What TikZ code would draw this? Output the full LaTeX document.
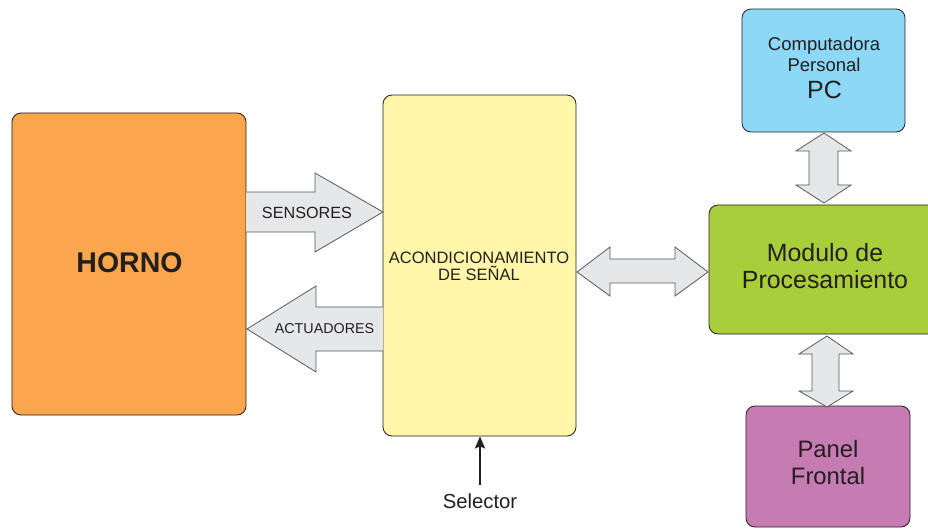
\documentclass[tikz,border=0pt]{standalone}
\usepackage{fontspec}
\setmainfont{Liberation Sans}
\usetikzlibrary{arrows.meta}
\definecolor{hornoC}{HTML}{F9A64C}
\definecolor{acondC}{HTML}{FFF6A9}
\definecolor{pcC}{HTML}{8DD8F7}
\definecolor{modC}{HTML}{A8CE3A}
\definecolor{panelC}{HTML}{C77BB3}
\definecolor{arrowC}{HTML}{E6E7E8}
\definecolor{edgeC}{HTML}{58595B}
\definecolor{inkC}{HTML}{231F20}
\newcommand{\fsz}[1]{\fontsize{#1bp}{#1bp}\selectfont}
\tikzset{
  box/.style={draw=inkC, line width=0.8bp, rounded corners=9bp, inner sep=0pt,
    anchor=center},
  blockarrow/.style={fill=arrowC, draw=edgeC, line width=0.8bp, line join=miter},
  lbl/.style={text=inkC, inner sep=0pt, anchor=base},
}
\begin{document}
\begin{tikzpicture}[x=1bp,y=-1bp]
\useasboundingbox (0,0) rectangle (928,529);
\clip (0,0) rectangle (928,529);

% blocks
\node[box, fill=hornoC, minimum width=234bp, minimum height=302bp]
  (horno) at (129,264) {};
\node[box, fill=acondC, minimum width=193bp, minimum height=341bp]
  (acond) at (479.5,265.5) {};
\node[box, fill=pcC, minimum width=163bp, minimum height=123bp]
  (pc) at (823.5,70.5) {};
\node[box, fill=modC, minimum width=232bp, minimum height=129bp]
  (modulo) at (825,269.5) {};
\node[box, fill=panelC, minimum width=164bp, minimum height=121bp]
  (panel) at (828,466.5) {};

% block texts, one node per line, placed on their baselines
\node[lbl, font=\fsz{28.5}\bfseries] (hornoT) at (129.5,273) {HORNO};
\node[lbl, font=\fsz{16.5}] (acondT1) at (479,264) {ACONDICIONAMIENTO};
\node[lbl, font=\fsz{16.5}] (acondT2) at (479,280.5) {DE SEÑAL};
\node[lbl, font=\fsz{18.5}] (pcT1) at (824,50.5) {Computadora};
\node[lbl, font=\fsz{18.5}] (pcT2) at (824,72) {Personal};
\node[lbl, font=\fsz{25}] (pcT3) at (824.5,98.5) {PC};
\node[lbl, font=\fsz{24.9}] (modT1) at (825,262) {Modulo de};
\node[lbl, font=\fsz{24.9}] (modT2) at (825,289) {Procesamiento};
\node[lbl, font=\fsz{23.8}] (panT1) at (828,457) {Panel};
\node[lbl, font=\fsz{23.8}] (panT2) at (828,484.5) {Frontal};

% sensores: horno -> acondicionamiento
\draw[blockarrow] (246,192) -- (315,192) -- (315,173) -- (383,212)
  -- (315,252) -- (315,232) -- (246,232);
\node[lbl, font=\fsz{16.2}] (sens) at (307,218.5) {SENSORES};

% actuadores: acondicionamiento -> horno
\draw[blockarrow] (383,307) -- (316,307) -- (316,286) -- (247,329)
  -- (316,372) -- (316,351) -- (383,351);
\node[lbl, font=\fsz{14.3}] (act) at (324.5,334) {ACTUADORES};

% acondicionamiento <-> modulo
\draw[blockarrow] (577,272) -- (610,247) -- (610,259) -- (675,259) -- (675,247)
  -- (708,272) -- (675,296) -- (675,283) -- (610,283) -- (610,296) -- cycle;

% pc <-> modulo
\draw[blockarrow] (824,133) -- (851,151) -- (838,151) -- (838,185) -- (851,185)
  -- (824,203) -- (796,185) -- (809,185) -- (809,151) -- (796,151) -- cycle;

% modulo <-> panel
\draw[blockarrow] (827,336) -- (853,354) -- (839,354) -- (839,391) -- (853,391)
  -- (827,407) -- (799,391) -- (812,391) -- (812,354) -- (799,354) -- cycle;

% selector input
\node[lbl, font=\fsz{20.3}] (sel) at (480,508) {Selector};
\coordinate (selTop) at (480,484.5);
\draw[line width=2bp, draw=inkC, -{Stealth[length=12bp,width=10bp,inset=2bp]}]
  (selTop) -- (selTop |- acond.south);
\end{tikzpicture}
\end{document}
